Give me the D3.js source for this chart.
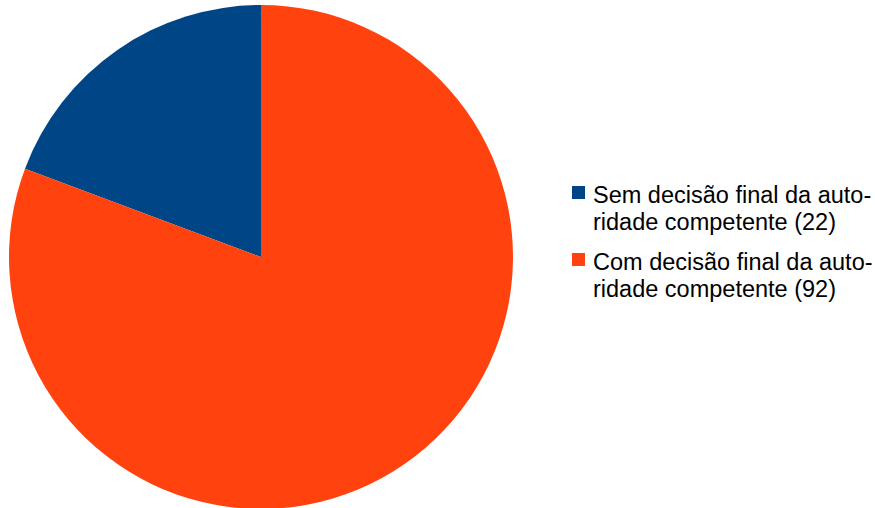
<!DOCTYPE html>
<html>
<head>
<meta charset="utf-8">
<script src="https://cdn.jsdelivr.net/npm/d3@7"></script>
<style>
  body { margin: 0; background: #fff; }
  svg { display: block; font-family: "Liberation Sans", Arial, sans-serif; }
</style>
</head>
<body>
<div id="chart"></div>
<script>
var labels = ["Sem decisão final da autoridade competente (22)", "Com decisão final da autoridade competente (92)"];
var labelLines = [["Sem decisão final da auto-", "ridade competente (22)"], ["Com decisão final da auto-", "ridade competente (92)"]];
var values = [22, 92];
var colors = ["#004586", "#ff420e"];

drawChart();

function drawChart() {
    var width = 875;
    var height = 508;
    var cx = 261, cy = 257, radius = 252;

    var total = d3.sum(values);
    var start = -2 * Math.PI * values[0] / total;

    var svg = d3.select("#chart")
      .append("svg")
      .attr("width", width)
      .attr("height", height);

    var g = svg.append("g")
      .attr("transform", "translate(" + cx + "," + cy + ")");

    var arc = d3.arc().innerRadius(0).outerRadius(radius);

    var pie = d3.pie()
      .value(function(d) { return d; })
      .sort(null)
      .startAngle(start)
      .endAngle(start + 2 * Math.PI);

    g.selectAll("path")
      .data(pie(values))
      .enter()
      .append("path")
      .attr("d", arc)
      .attr("fill", (d, i) => colors[i]);

    // legend
    var legend = svg.append("g").attr("transform", "translate(572,0)");
    var item = legend.selectAll("g.item")
      .data(labelLines)
      .enter()
      .append("g")
      .attr("class", "item")
      .attr("transform", (d, i) => "translate(0," + (186 + i * 67) + ")");

    item.append("rect")
      .attr("width", 13)
      .attr("height", 13)
      .attr("fill", (d, i) => colors[i]);

    item.selectAll("text")
      .data(d => d)
      .enter()
      .append("text")
      .attr("x", 21)
      .attr("y", (d, j) => 17 + j * 27)
      .attr("font-size", 23.5)
      .attr("fill", "#000")
      .text(d => d);
}
</script>
</body>
</html>
